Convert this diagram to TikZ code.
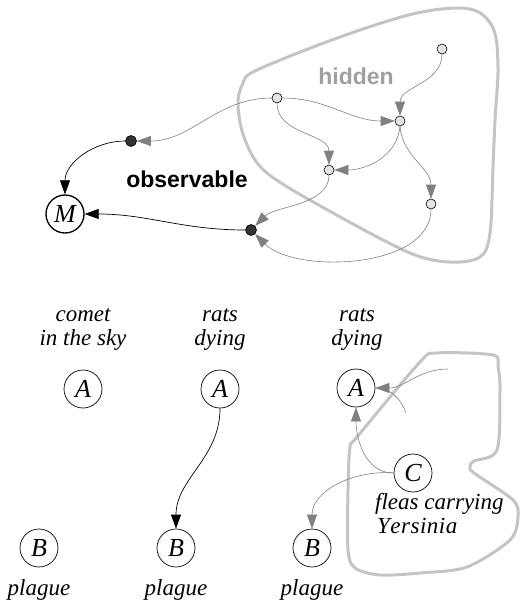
\documentclass[tikz,border=0pt]{standalone}
\usepackage{fontspec}
\setmainfont{Liberation Serif}
\newfontfamily\labsans{Liberation Sans}
\usetikzlibrary{arrows.meta}
\definecolor{edgegray}{HTML}{808080}
\definecolor{blobgray}{HTML}{C4C4C4}
\definecolor{lightnode}{HTML}{E4E4E4}
\definecolor{darknode}{HTML}{333333}
\definecolor{hidgray}{HTML}{A0A0A0}
\tikzset{
  smallnode/.style={circle,draw=black,fill=lightnode,line width=0.6pt,minimum size=10pt,inner sep=0pt},
  darkdot/.style={circle,draw=black,fill=darknode,line width=0.6pt,minimum size=11pt,inner sep=0pt},
  varnode/.style={circle,draw=black,line width=0.7pt,minimum size=38pt,inner sep=0pt,font=\fontsize{26}{26}\selectfont\itshape},
  mnode/.style={varnode,line width=1.3pt},
  caption/.style={align=center,font=\fontsize{23}{24}\selectfont\itshape,inner sep=0pt},
  gedge/.style={draw=edgegray,line width=0.6pt,-{Triangle[length=14pt,width=10pt]},shorten >=0pt},
  bedge/.style={draw=black,line width=0.7pt,-{Triangle[length=14pt,width=10pt]}},
  gline/.style={draw=edgegray,line width=0.6pt},
  blob/.style={draw=blobgray,line width=3pt,line join=round},
}
\begin{document}
\begin{tikzpicture}[x=1pt,y=1pt]
\useasboundingbox (0,0) rectangle (527,-610);
% ---------- top: hidden region ----------
\draw[blob] plot[smooth cycle,tension=0.55] coordinates {
 (238,-105) (243,-83) (257,-70) (340,-37) (417,-13) (470,-9) (493,-28) (498,-67)
 (495,-120) (493,-167) (490,-233) (480,-257) (450,-262) (410,-253) (333,-213)
 (267,-173) (245,-140)};
\node[text=hidgray,font=\labsans\bfseries\fontsize{23}{24}\selectfont,inner sep=0pt] (hid) at (356,-76) {hidden};
\node[font=\labsans\bfseries\fontsize{23}{24}\selectfont,inner sep=0pt] (obs) at (187,-179) {observable};

\node[smallnode] (ht) at (442,-49) {};
\node[smallnode] (h1) at (277,-98) {};
\node[smallnode] (h2) at (400,-121) {};
\node[smallnode] (h3) at (329,-170) {};
\node[smallnode] (h4) at (431,-204) {};
\node[darkdot] (d1) at (131,-141) {};
\node[darkdot] (d2) at (251,-230) {};
\node[mnode] (M) at (65,-214) {M};

\draw[gedge] (ht.south) to[out=-90,in=90] (h2.north);
\draw[gedge] (h1.east) to[out=0,in=180] (h2.west);
\draw[gedge] (h1.south) to[out=-90,in=90] (h3.north);
\draw[gedge] (h2.south) to[out=-95,in=0] (h3.east);
\draw[gedge] (h2.south) to[out=-85,in=90] (h4.north);
\draw[gedge] (h1.west) to[out=180,in=0] (d1.east);
\draw[gedge] (h3.south) .. controls +(0,-30) and +(20,20) .. (d2.north east);
\draw[gedge] (h4.south) .. controls +(0,-60) and +(40,-40) .. (d2.south east);
\draw[bedge] (d1.west) to[out=180,in=90] (M.north);
\draw[bedge] (d2.west) to[out=180,in=0] (M.east);

% ---------- bottom ----------
\node[caption] (c1) at (83,-330) {comet\\in the sky};
\node[caption] (c2) at (220,-330) {rats\\dying};
\node[caption] (c3) at (357,-330) {rats\\dying};

\node[varnode] (A1) at (83,-389) {A};
\node[varnode] (A2) at (220,-389) {A};
\node[varnode] (A3) at (356,-388) {A};
\node[varnode] (B1) at (39,-548) {B};
\node[varnode] (B2) at (176,-548) {B};
\node[varnode] (B3) at (312,-548) {B};

\node[caption] (p1) at (39,-590) {plague};
\node[caption] (p2) at (176,-590) {plague};
\node[caption] (p3) at (312,-590) {plague};

\draw[blob] plot[smooth cycle,tension=0.5] coordinates {
 (420,-362) (437,-353) (493,-355) (498,-367) (500,-390) (497,-450) (474,-461)
 (470,-467) (474,-473) (513,-500) (518,-517) (510,-540) (467,-567) (420,-573)
 (380,-575) (355,-568) (348,-550) (348,-490) (350,-447) (357,-437)};

\node[varnode,fill=white] (C) at (413,-473) {C};
\node[caption,align=left,anchor=north west] (fl) at (375,-493) {fleas carrying\\\hspace{2pt}Y\kern0.5pt e\kern0.5pt r\kern0.5pt s\kern0.5pt i\kern0.5pt n\kern0.5pt i\kern0.5pt a};

\coordinate (in1) at (448,-369);
\coordinate (in2) at (406,-413);

\draw[bedge] (A2.south) to[out=-90,in=90] (B2.north);
\draw[gedge] (C.west) to[out=180,in=-90] (A3.south);
\draw[gedge] (C.west) to[out=175,in=90] (B3.north);
\draw[gline] (in2) to[out=110,in=0] (A3.east);
\draw[gedge] (in1) to[out=180,in=0] (A3.east);
\end{tikzpicture}
\end{document}
